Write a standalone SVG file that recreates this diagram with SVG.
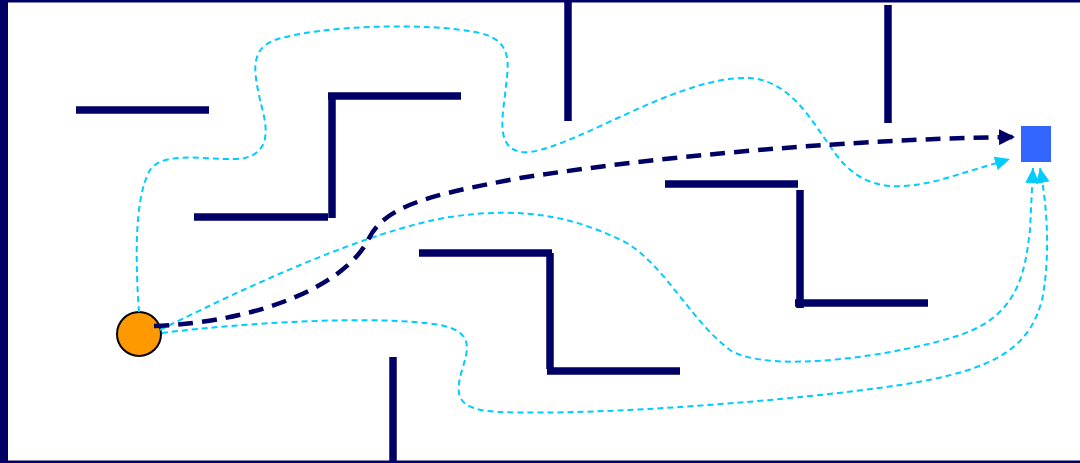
<svg xmlns="http://www.w3.org/2000/svg" width="1080" height="463" viewBox="0 0 1080 463">
<style>
.wall{stroke:#000066;stroke-width:7.5;fill:none;stroke-linecap:butt}
.best{stroke:#000066;stroke-width:4.5;fill:none;stroke-dasharray:15 9}
.alt{stroke:#00CCFF;stroke-width:2;fill:none;stroke-dasharray:6 4}
</style>
<defs>
<marker id="ad" markerUnits="userSpaceOnUse" markerWidth="18" markerHeight="16" refX="16" refY="8" orient="auto">
<path d="M0,0 L16,8 L0,16 Z" fill="#000066"/>
</marker>
<marker id="al" markerUnits="userSpaceOnUse" markerWidth="16" markerHeight="14" refX="15" refY="7" orient="auto">
<path d="M0,0 L15,7 L0,14 Z" fill="#00CCFF"/>
</marker>
</defs>
<rect x="0" y="0" width="1080" height="463" fill="#ffffff"/>
<g id="border">
<rect x="0" y="0" width="8" height="463" fill="#000066"/>
<rect x="0" y="0" width="1080" height="2.5" fill="#000066"/>
<rect x="0" y="460.5" width="1080" height="2.5" fill="#000066"/>
</g>
<g id="walls">
<path id="wallA" class="wall" d="M76,110 H209"/>
<path id="wallB" class="wall" d="M461,96 H328 M332,96 V218"/>
<path id="wallC" class="wall" d="M194,217 H328"/>
<path id="wallD" class="wall" d="M568,2 V121"/>
<path id="wallE" class="wall" d="M888,5 V123"/>
<path id="wallF" class="wall" d="M665,184 H798 M800,190 V308 M795,303 H928"/>
<path id="wallG" class="wall" d="M419,253 H552 M550,253 V369 M547,371 H680"/>
<path id="wallH" class="wall" d="M393,357 V463"/>
</g>
<g id="start">
<circle cx="139" cy="334" r="22" fill="#FF9900" stroke="#000000" stroke-width="2"/>
</g>
<g id="goal">
<rect x="1021" y="126" width="30" height="36" fill="#3366FF"/>
</g>
<g id="connectors">
<path class="alt" marker-end="url(#al)" d="M139,312 C136,270 133,200 150,170 C165,148 220,163 245,158 C275,150 265,120 260,100 C255,75 248,50 275,40 C320,25 430,22 480,33 C515,42 508,65 505,95 C502,120 495,155 530,152 C580,145 680,75 750,78 C800,82 820,140 845,165 C870,190 900,190 940,180 L1010,159"/>
<path class="alt" marker-end="url(#al)" d="M160,330 C250,285 370,230 450,217 C530,205 580,220 625,242 C665,265 690,320 730,350 C770,375 900,355 960,335 C1020,315 1025,270 1030,230 L1033,168"/>
<path class="alt" marker-end="url(#al)" d="M162,333 C250,322 380,315 440,325 C475,332 468,350 462,370 C455,395 455,410 500,412 C600,416 800,400 900,385 C1000,370 1030,345 1042,300 C1050,260 1048,210 1040,168"/>
<path class="best" marker-end="url(#ad)" d="M154,326 C260,322 345,285 368,240 C385,205 430,195 520,178 C700,150 900,138 1015,137"/>
</g>
</svg>
